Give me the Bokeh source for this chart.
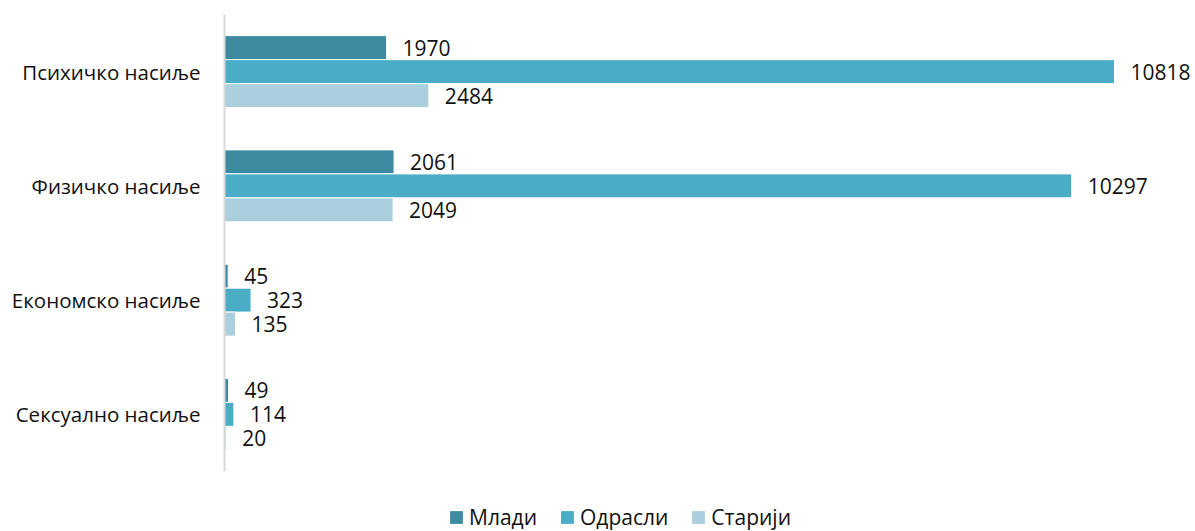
from bokeh.plotting import figure
from bokeh.models import ColumnDataSource, FactorRange, Range1d
from bokeh.layouts import column
from bokeh.transform import dodge
from bokeh.core.properties import value
from bokeh.embed import file_html
from bokeh.resources import INLINE

categories = ["Психичко насиље", "Физичко насиље", "Економско насиље", "Сексуално насиље"]
series = ["Млади", "Одрасли", "Старији"]
mladi = [1970, 2061, 45, 49]
odrasli = [10818, 10297, 323, 114]
stariji = [2484, 2049, 135, 20]
colors = ["#3D8BA1", "#4BACC6", "#ABCFDD"]

FONT = "Open Sans"
TXT = "#111111"

src = ColumnDataSource(dict(
    cat=categories,
    mladi=mladi, odrasli=odrasli, stariji=stariji,
    mladi_t=[str(v) for v in mladi],
    odrasli_t=[str(v) for v in odrasli],
    stariji_t=[str(v) for v in stariji],
))

p = figure(
    width=1195, height=490,
    y_range=FactorRange(factors=list(reversed(categories)), range_padding=0),
    x_range=Range1d(0, 11802),
    output_backend="svg", toolbar_location=None,
    min_border_left=224, min_border_right=0, min_border_top=14, min_border_bottom=19,
)

fields = ["mladi", "odrasli", "stariji"]
offsets = [0.21, 0.0, -0.21]
for f, off, col in zip(fields, offsets, colors):
    p.hbar(y=dodge("cat", off, range=p.y_range), right=f, left=0, height=0.21,
           source=src, fill_color=col, line_color="white", line_width=1)
    p.text(x=f, y=dodge("cat", off, range=p.y_range), text=f + "_t", source=src,
           x_offset=16, text_align="left", text_baseline="middle",
           text_font=value(FONT), text_font_size="21px", text_color=TXT)

p.xaxis.visible = False
p.xgrid.visible = False
p.ygrid.visible = False
p.outline_line_color = None

p.yaxis.axis_line_color = "#D9D9D9"
p.yaxis.axis_line_width = 2
p.yaxis.major_tick_line_color = None
p.yaxis.minor_tick_line_color = None
p.yaxis.major_label_text_font = FONT
p.yaxis.major_label_text_font_size = "20.5px"
p.yaxis.major_label_text_color = TXT
p.yaxis.major_label_standoff = 18

# legend strip (swatches only; zero-size bars so nothing is drawn in the strip itself)
q = figure(width=1195, height=41, x_range=Range1d(0, 1), y_range=Range1d(0, 1),
           output_backend="svg", toolbar_location=None,
           min_border_left=0, min_border_right=0, min_border_top=0, min_border_bottom=0)
for col, name in zip(colors, series):
    q.hbar(y=[0.5], right=[0], left=0, height=[0], fill_color=col, line_color=None,
           legend_label=name)
q.axis.visible = False
q.grid.visible = False
q.outline_line_color = None

lg = q.legend[0]
lg.orientation = "horizontal"
lg.location = (224, 0)
lg.border_line_color = None
lg.background_fill_alpha = 0
lg.padding = 0
lg.margin = 0
lg.spacing = 22
lg.glyph_width = 16
lg.glyph_height = 16
lg.label_standoff = 5
lg.label_text_font = FONT
lg.label_text_font_size = "21px"
lg.label_text_color = TXT

open("out.html", "w").write(file_html(column(p, q, spacing=0), INLINE))
